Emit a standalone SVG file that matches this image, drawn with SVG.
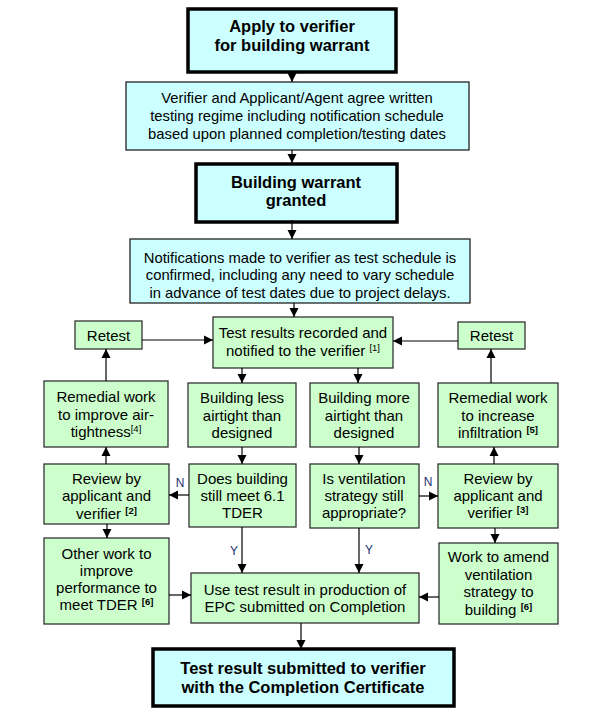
<svg xmlns="http://www.w3.org/2000/svg" width="611" height="715" viewBox="0 0 611 715">
<style>
text{font-family:"Liberation Sans",Arial,sans-serif;fill:#000;text-anchor:middle}
.c{fill:#CCFFFF;stroke:#222;stroke-width:1.3}
.ct{fill:#CCFFFF;stroke:#000;stroke-width:3.5}
.g{fill:#CCFFCC;stroke:#333;stroke-width:1.3}
.b{font-weight:bold;font-size:16.5px}
.r{font-size:14.8px}
.t{font-size:15px}
.s{font-size:9.5px}
.sb{font-size:9.5px;font-weight:bold}
.lab{font-size:12px;fill:#1c2f6e}
.con line{stroke:#000;stroke-width:1.2;marker-end:url(#ah)}
</style>
<defs>
<marker id="ah" markerUnits="userSpaceOnUse" markerWidth="10" markerHeight="10" refX="9" refY="5" orient="auto">
<path d="M0,0.5 L9,5 L0,9.5 z" fill="#000"/>
</marker>
</defs>
<rect width="611" height="715" fill="#fff"/>

<g id="n1"><rect class="ct" x="188" y="9" width="208" height="63"/>
<text class="b" x="292" y="32">Apply to verifier</text>
<text class="b" x="292" y="51">for building warrant</text></g>

<g id="n2"><rect class="c" x="126" y="82" width="343" height="68"/>
<text class="r" x="297" y="103">Verifier and Applicant/Agent agree written</text>
<text class="r" x="297" y="121">testing regime including notification schedule</text>
<text class="r" x="297" y="139">based upon planned completion/testing dates</text></g>

<g id="n3"><rect class="ct" x="196" y="164" width="201" height="58"/>
<text class="b" x="296" y="188">Building warrant</text>
<text class="b" x="296" y="206">granted</text></g>

<g id="n4"><rect class="c" x="130" y="239" width="340" height="64"/>
<text class="r" x="300" y="263">Notifications made to verifier as test schedule is</text>
<text class="r" x="300" y="280">confirmed, including any need to vary schedule</text>
<text class="r" x="300" y="298">in advance of test dates due to project delays.</text></g>

<g id="n5"><rect class="g" x="213" y="317" width="180" height="51"/>
<text class="t" x="303" y="338">Test results recorded and</text>
<text class="t" x="303" y="356">notified to the verifier <tspan class="s" dy="-5">[1]</tspan></text></g>

<g id="n6"><rect class="g" x="75" y="321" width="67" height="28"/>
<text class="t" x="108.5" y="341">Retest</text></g>

<g id="n7"><rect class="g" x="458" y="322" width="67" height="27"/>
<text class="t" x="491.5" y="341">Retest</text></g>

<g id="n8"><rect class="g" x="44" y="381" width="124" height="66"/>
<text class="t" x="106" y="402">Remedial work</text>
<text class="t" x="106" y="420">to improve air-</text>
<text class="t" x="106" y="437">tightness<tspan class="s" dy="-5">[4]</tspan></text></g>

<g id="n9"><rect class="g" x="188" y="383" width="108" height="64"/>
<text class="t" x="242" y="403">Building less</text>
<text class="t" x="242" y="421">airtight than</text>
<text class="t" x="242" y="438">designed</text></g>

<g id="n10"><rect class="g" x="310" y="383" width="109" height="64"/>
<text class="t" x="364" y="403">Building more</text>
<text class="t" x="364" y="421">airtight than</text>
<text class="t" x="364" y="438">designed</text></g>

<g id="n11"><rect class="g" x="438" y="383" width="120" height="64"/>
<text class="t" x="498" y="403">Remedial work</text>
<text class="t" x="498" y="421">to increase</text>
<text class="t" x="498" y="438">infiltration <tspan class="sb" dy="-5">[5]</tspan></text></g>

<g id="n12"><rect class="g" x="44" y="464" width="125" height="60"/>
<text class="t" x="106.5" y="484">Review by</text>
<text class="t" x="106.5" y="501">applicant and</text>
<text class="t" x="106.5" y="519">verifier <tspan class="sb" dy="-5">[2]</tspan></text></g>

<g id="n13"><rect class="g" x="189" y="464" width="107" height="63"/>
<text class="t" x="242.5" y="484">Does building</text>
<text class="t" x="242.5" y="501">still meet 6.1</text>
<text class="t" x="242.5" y="518">TDER</text></g>

<g id="n14"><rect class="g" x="310" y="464" width="109" height="64"/>
<text class="t" x="364" y="484">Is ventilation</text>
<text class="t" x="364" y="501">strategy still</text>
<text class="t" x="364" y="518">appropriate?</text></g>

<g id="n15"><rect class="g" x="438" y="464" width="120" height="64"/>
<text class="t" x="498" y="484">Review by</text>
<text class="t" x="498" y="501">applicant and</text>
<text class="t" x="498" y="518">verifier <tspan class="sb" dy="-5">[3]</tspan></text></g>

<g id="n16"><rect class="g" x="44" y="538" width="125" height="86"/>
<text class="t" x="106.5" y="559">Other work to</text>
<text class="t" x="106.5" y="576">improve</text>
<text class="t" x="106.5" y="593">performance to</text>
<text class="t" x="106.5" y="610">meet TDER <tspan class="sb" dy="-5">[6]</tspan></text></g>

<g id="n17"><rect class="g" x="191" y="573" width="228" height="50"/>
<text class="t" x="305" y="595">Use test result in production of</text>
<text class="t" x="305" y="612">EPC submitted on Completion</text></g>

<g id="n18"><rect class="g" x="439" y="543" width="119" height="81"/>
<text class="t" x="498.5" y="562">Work to amend</text>
<text class="t" x="498.5" y="580">ventilation</text>
<text class="t" x="498.5" y="597">strategy to</text>
<text class="t" x="498.5" y="615">building <tspan class="sb" dy="-5">[6]</tspan></text></g>

<g id="n19"><rect class="ct" x="153" y="649" width="301" height="57"/>
<text class="b" x="303" y="674">Test result submitted to verifier</text>
<text class="b" x="303" y="693">with the Completion Certificate</text></g>

<g id="connectors" class="con">
<line x1="292" y1="72" x2="292" y2="82"/>
<line x1="292" y1="150" x2="292" y2="163"/>
<line x1="292" y1="220" x2="292" y2="239"/>
<line x1="294" y1="303" x2="294" y2="317"/>
<line x1="142" y1="340" x2="213" y2="340"/>
<line x1="458" y1="341" x2="393" y2="341"/>
<line x1="106" y1="381" x2="106" y2="349"/>
<line x1="491" y1="383" x2="491" y2="349"/>
<line x1="242" y1="368" x2="242" y2="383"/>
<line x1="358" y1="368" x2="358" y2="383"/>
<line x1="242" y1="447" x2="242" y2="464"/>
<line x1="359" y1="447" x2="359" y2="464"/>
<line x1="106" y1="464" x2="106" y2="447"/>
<line x1="494" y1="464" x2="494" y2="447"/>
<line x1="189" y1="495" x2="169" y2="495"/>
<line x1="419" y1="496" x2="438" y2="496"/>
<line x1="107" y1="524" x2="107" y2="538"/>
<line x1="495" y1="528" x2="495" y2="543"/>
<line x1="242" y1="527" x2="242" y2="573"/>
<line x1="359" y1="528" x2="359" y2="573"/>
<line x1="169" y1="595" x2="191" y2="595"/>
<line x1="439" y1="597" x2="419" y2="597"/>
<line x1="301" y1="623" x2="301" y2="649"/>
</g>
<g id="labels">
<text class="lab" x="180" y="487">N</text>
<text class="lab" x="428" y="486">N</text>
<text class="lab" x="234" y="555">Y</text>
<text class="lab" x="369" y="554">Y</text>
</g>
</svg>
